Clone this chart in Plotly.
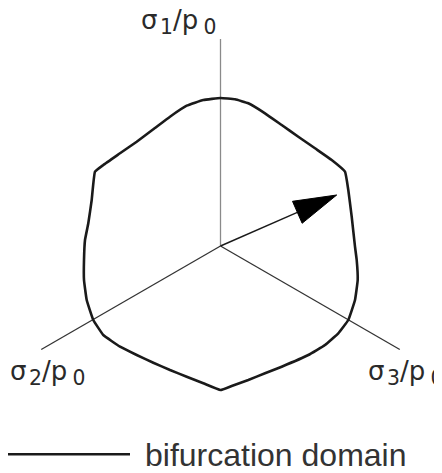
import numpy as np
import plotly.graph_objects as go

# bifurcation domain in the deviatoric plane (origin = hydrostatic axis), y up
curve_x = [0, 14.5, 27.8, 44.5, 61.2, 77.8, 94.5, 111.2, 124.5, 127.8, 131.2, 134.5,
           136.2, 137.2, 134.5, 127.8, 117.8, 104.5, 87.8, 61.2, 44.5, 27.8, 11.2, 0,
           -17.2, -33.8, -50.5, -67.2, -83.8, -100.5, -117.2, -127.2, -133.8, -136.5,
           -136.5, -135.5, -132.2, -128.8, -125.5, -117.2, -100.5, -83.8, -67.2, -50.5,
           -33.8, -17.2, 0]
curve_y = [148, 146.7, 142.7, 132.7, 121, 109.3, 97.7, 86, 74.3, 56, 29.3, -0.7,
           -14, -34, -54, -74, -87.3, -99, -109, -120.7, -127.3, -134, -140, -144,
           -137.3, -130.7, -124, -116.7, -109, -100.7, -89, -74, -54, -34,
           -14, 6, 22.7, 46, 74.3, 81, 92.7, 104.3, 116.7, 129.3,
           140.3, 146, 148]

# principal stress axes
axis_subs = ["1", "2", "3"]
axis_angles = [90, 210, 330]
axis_length = 207
axis_colors = ["#8a8a8a", "#333333", "#333333"]

# loading direction arrow
arrow_tip = (116.2, 51.0)

legend_label = "bifurcation domain"

# page is 442x473, the figure sits 8px in from the body margin
PAGE_W, PAGE_H, PAD = 442, 473, 8
W, H = PAGE_W - PAD, PAGE_H - PAD
ox, oy = 220.5, 246  # origin in page pixels


def sub(s):
    return "<sub><span style='font-size:112%'>" + s + "</span></sub>"


fig = go.Figure()

for ang, col in zip(axis_angles, axis_colors):
    a = np.radians(ang)
    fig.add_trace(go.Scatter(x=[0, axis_length * np.cos(a)], y=[0, axis_length * np.sin(a)],
                             mode="lines", line=dict(color=col, width=1.3), hoverinfo="skip"))

fig.add_trace(go.Scatter(x=curve_x, y=curve_y, mode="lines",
                         line=dict(color="#1a1a1a", width=2.6, shape="spline", smoothing=0.3),
                         hoverinfo="skip"))

# arrow: shaft + filled head
tx, ty = arrow_tip
L = np.hypot(tx, ty)
ux, uy = tx / L, ty / L
head_len, head_half = 43, 12
bx, by = tx - head_len * ux, ty - head_len * uy
fig.add_trace(go.Scatter(x=[0, bx], y=[0, by], mode="lines",
                         line=dict(color="#1a1a1a", width=1.4), hoverinfo="skip"))
fig.add_trace(go.Scatter(x=[tx, bx - head_half * uy, bx + head_half * uy, tx],
                         y=[ty, by + head_half * ux, by - head_half * ux, ty],
                         mode="lines", fill="toself", fillcolor="black",
                         line=dict(color="black", width=1), hoverinfo="skip"))

# axis labels (page pixel positions from the picture)
label_pos = [(178, 22, "center"), (47, 373, "center"), (366, 373, "left")]
for s, (px, py, anchor) in zip(axis_subs, label_pos):
    text = "σ\u200a" + sub(s) + "/p\u2009" + sub("0")
    fig.add_annotation(x=px - ox, y=oy - py, text=text, showarrow=False,
                       xanchor=anchor, yanchor="middle",
                       font=dict(size=26, color="#2a2a2a",
                                 family="DejaVu Sans, Liberation Sans, sans-serif"))

# legend drawn by hand
fig.add_trace(go.Scatter(x=[8 - ox, 130 - ox], y=[oy - 454.3, oy - 454.3], mode="lines",
                         line=dict(color="#1a1a1a", width=2.6), hoverinfo="skip"))
fig.add_annotation(x=143 - ox, y=oy - 455, text=legend_label, showarrow=False,
                   xanchor="left", yanchor="middle", font=dict(size=32, color="#333333"))

fig.update_layout(
    width=W, height=H,
    margin=dict(l=0, r=0, t=0, b=0),
    paper_bgcolor="white", plot_bgcolor="white",
    showlegend=False,
    font=dict(family="Liberation Sans, Arial, sans-serif"),
    xaxis=dict(range=[PAD - ox, PAGE_W - ox], visible=False, fixedrange=True),
    yaxis=dict(range=[oy - PAGE_H, oy - PAD], visible=False, fixedrange=True),
)

fig.write_html("out.html")
